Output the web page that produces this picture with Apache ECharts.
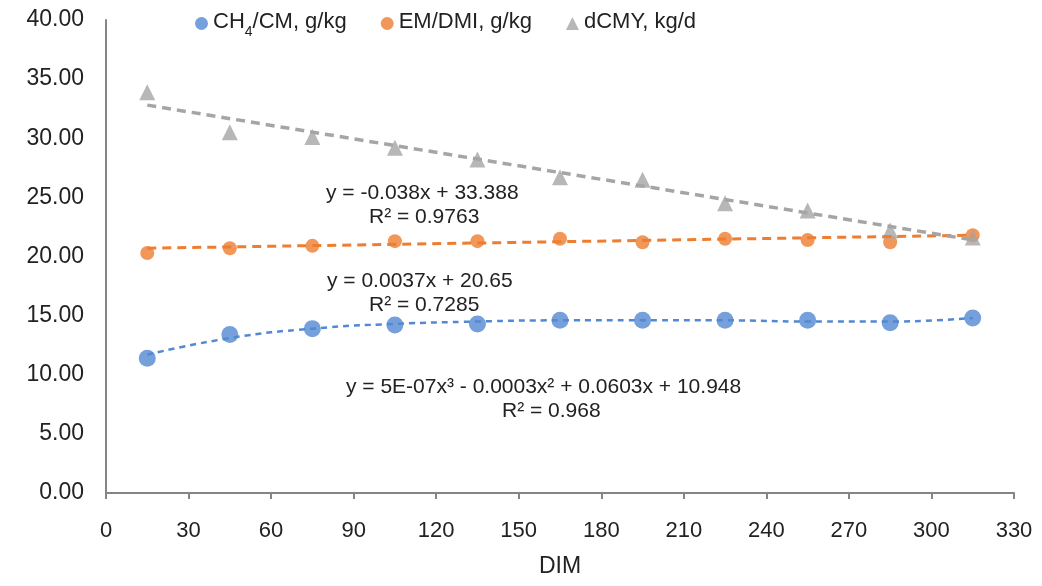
<!DOCTYPE html>
<html>
<head>
<meta charset="utf-8">
<script src="https://cdn.jsdelivr.net/npm/echarts@6/dist/echarts.min.js"></script>
<style>
html, body { margin: 0; padding: 0; background: #fff; }
#main { width: 1042px; height: 586px; }
</style>
</head>
<body>
<div id="main"></div>
<script>
// days in milk
var dim = [15, 45, 75, 105, 135, 165, 195, 225, 255, 285, 315];
// CH4/CM, g/kg
var ch4Cm = [11.4, 13.4, 13.9, 14.2, 14.3, 14.6, 14.6, 14.6, 14.6, 14.4, 14.8];
// EM/DMI, g/kg
var emDmi = [20.3, 20.7, 20.9, 21.3, 21.3, 21.5, 21.2, 21.5, 21.4, 21.2, 21.8];
// dCMY, kg/d
var dcmy = [33.9, 30.5, 30.1, 29.2, 28.2, 26.7, 26.5, 24.5, 23.9, 22.2, 21.6];

// trend lines
var ch4Trend = [11.7, 13.1, 13.9, 14.3, 14.5, 14.6, 14.6, 14.6, 14.5, 14.5, 14.8];
var emTrendX = [15, 315];
var emTrend = [20.7, 21.8];
var dcmyTrendX = [15, 315];
var dcmyTrend = [32.8, 21.4];

var yTicks = [0, 5, 10, 15, 20, 25, 30, 35, 40];
var xTicks = [0, 30, 60, 90, 120, 150, 180, 210, 240, 270, 300, 330];

var blue = '#5388d2';
var orange = '#ed7d31';
var grey = '#a5a5a5';
var textColor = '#222';
var font = 'Liberation Sans, Arial, sans-serif';

function pairs(xs, ys) {
    var out = [];
    for (var i = 0; i < xs.length; i++) {
        out.push([xs[i], ys[i]]);
    }
    return out;
}

var chart = echarts.init(document.getElementById('main'));

var option = {
    backgroundColor: '#fff',
    animation: false,
    textStyle: { fontFamily: font },
    grid: { left: 106, right: 28, top: 20, bottom: 93 },
    legend: {
        left: 190,
        top: 6,
        itemGap: 34,
        itemWidth: 13,
        itemHeight: 13,
        data: [
            { name: 'CH4/CM, g/kg', icon: 'circle' },
            { name: 'EM/DMI, g/kg', icon: 'circle' },
            { name: 'dCMY, kg/d', icon: 'triangle' }
        ],
        formatter: function (name) {
            if (name == 'CH4/CM, g/kg') {
                return '{n|CH}{s|4}{n|/CM, g/kg}';
            }
            return '{n|' + name + '}';
        },
        textStyle: {
            color: textColor,
            fontSize: 22,
            rich: {
                n: { fontSize: 22, color: textColor, fontFamily: font, verticalAlign: 'top', lineHeight: 25 },
                s: { fontSize: 14, color: textColor, fontFamily: font, verticalAlign: 'top', lineHeight: 14, padding: [14, 0, 0, 0] }
            }
        }
    },
    xAxis: {
        type: 'value',
        min: xTicks[0],
        max: xTicks[xTicks.length - 1],
        interval: 30,
        name: 'DIM',
        nameLocation: 'middle',
        nameGap: 62,
        nameTextStyle: { color: textColor, fontSize: 23 },
        splitLine: { show: false },
        axisLine: { lineStyle: { color: '#858585', width: 2 } },
        axisTick: { show: true, length: 6, lineStyle: { color: '#858585', width: 2 } },
        axisLabel: { color: textColor, fontSize: 22, margin: 27 }
    },
    yAxis: {
        type: 'value',
        min: yTicks[0],
        max: yTicks[yTicks.length - 1],
        interval: 5,
        splitLine: { show: false },
        axisLine: { show: true, lineStyle: { color: '#858585', width: 2 } },
        axisTick: { show: false },
        axisLabel: {
            color: textColor,
            fontSize: 23,
            margin: 22,
            formatter: function (v) { return v.toFixed(2); }
        }
    },
    graphic: [
        { type: 'text', left: 326, top: 183, style: { text: 'y = -0.038x + 33.388', font: '21px ' + font, fill: textColor } },
        { type: 'text', left: 369, top: 207, style: { text: 'R² = 0.9763', font: '21px ' + font, fill: textColor } },
        { type: 'text', left: 327, top: 271, style: { text: 'y = 0.0037x + 20.65', font: '21px ' + font, fill: textColor } },
        { type: 'text', left: 369, top: 295, style: { text: 'R² = 0.7285', font: '21px ' + font, fill: textColor } },
        { type: 'text', left: 346, top: 377, style: { text: 'y = 5E-07x³ - 0.0003x² + 0.0603x + 10.948', font: '21px ' + font, fill: textColor } },
        { type: 'text', left: 502, top: 401, style: { text: 'R² = 0.968', font: '21px ' + font, fill: textColor } }
    ],
    series: [
        {
            name: 'CH4/CM, g/kg',
            type: 'scatter',
            symbol: 'circle',
            symbolSize: 17,
            itemStyle: { color: blue },
            data: pairs(dim, ch4Cm),
            z: 2
        },
        {
            name: 'EM/DMI, g/kg',
            type: 'scatter',
            symbol: 'circle',
            symbolSize: 14,
            itemStyle: { color: orange },
            data: pairs(dim, emDmi),
            z: 2
        },
        {
            name: 'dCMY, kg/d',
            type: 'scatter',
            symbol: 'triangle',
            symbolSize: 16,
            itemStyle: { color: grey },
            data: pairs(dim, dcmy),
            z: 2
        },
        {
            name: 'ch4 trend',
            type: 'line',
            smooth: true,
            showSymbol: false,
            lineStyle: { color: blue, width: 2.5, type: [6, 5] },
            data: pairs(dim, ch4Trend),
            z: 3
        },
        {
            name: 'em trend',
            type: 'line',
            showSymbol: false,
            lineStyle: { color: orange, width: 3, type: [9, 6] },
            data: pairs(emTrendX, emTrend),
            z: 3
        },
        {
            name: 'dcmy trend',
            type: 'line',
            showSymbol: false,
            lineStyle: { color: grey, width: 3.5, type: [9, 6] },
            data: pairs(dcmyTrendX, dcmyTrend),
            z: 3
        }
    ]
};

chart.setOption(option);
window.onresize = function () {
    chart.resize();
};
</script>
</body>
</html>
